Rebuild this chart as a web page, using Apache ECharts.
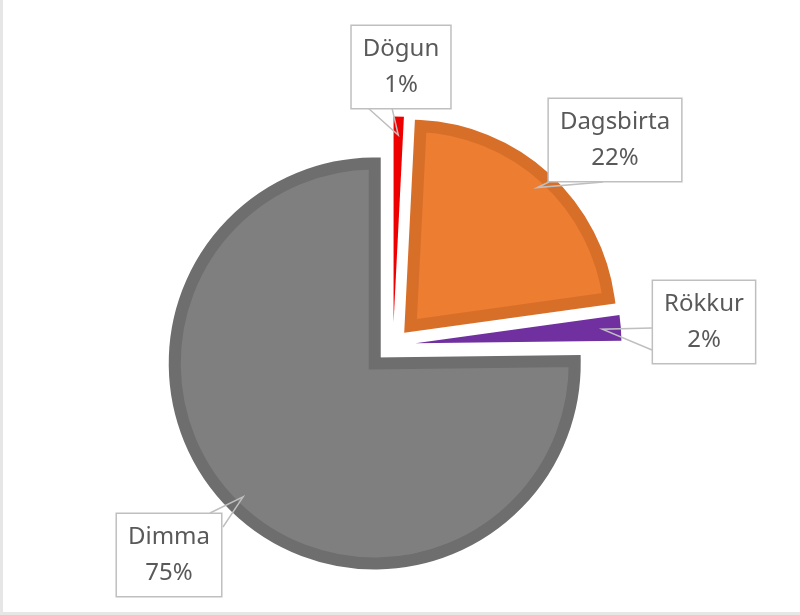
<!DOCTYPE html>
<html>
<head>
<meta charset="utf-8">
<script src="https://cdn.jsdelivr.net/npm/echarts@6/dist/echarts.min.js"></script>
<style>
  html, body { margin: 0; padding: 0; background: #fff; }
  #chart { width: 800px; height: 615px; }
</style>
</head>
<body>
<div id="chart"></div>
<script>
// Data
const categories = ['Dögun', 'Dagsbirta', 'Rökkur', 'Dimma'];
const shares = [0.8, 22, 2, 75.2];

// Styles
const fills = ['#EE0000', '#ED7D31', '#7030A0', '#7F7F7F'];
const edges = ['#EE0000', '#D86F29', '#7030A0', '#6E6E6E'];
const thin = [true, false, true, false];

// callout boxes: centre of the box and where the pointer leaves it
const callouts = [
  { x: 401, y: 67, base: [[368, 108], [392, 108]] },
  { x: 615, y: 140, base: [[549, 182], [603, 182]] },
  { x: 704, y: 322, base: [[652, 350], [652, 328]] },
  { x: 169, y: 555, base: [[210, 513], [223, 527]] },
];

const center = [393, 345];
const R = 206;

// middle angle of every slice, clockwise from 12 o'clock
const total = shares.reduce((a, b) => a + b, 0);
let acc = 0;
const mids = shares.map((v) => {
  const m = ((acc + v / 2) / total) * 2 * Math.PI;
  acc += v;
  return m;
});

var chartDom = document.getElementById('chart');
var myChart = echarts.init(chartDom);
var option;

const hidden = { color: 'rgba(0,0,0,0)', borderWidth: 0 };
const tips = [];

// one pie per slice so every slice can be pulled out on its own
const series = categories.map((name, i) => {
  const off = thin[i] ? 22.5 : 26;
  const dx = Math.sin(mids[i]);
  const dy = -Math.cos(mids[i]);
  const c = [center[0] + dx * off, center[1] + dy * off];
  tips.push([c[0] + dx * R * 0.91, c[1] + dy * R * 0.91]);
  const st = thin[i]
    ? { color: fills[i], borderWidth: 0 }
    : { color: fills[i], borderColor: edges[i], borderWidth: 12, borderJoin: 'miter' };
  return {
    type: 'pie',
    center: c,
    radius: thin[i] ? R : R - 6,
    startAngle: 90,
    silent: true,
    emphasis: { disabled: true },
    label: { show: false },
    labelLine: { show: false },
    data: categories.map((n, j) => ({
      name: n,
      value: shares[j],
      itemStyle: j === i ? st : hidden,
    })),
  };
});

// invisible pie on top that only carries the callouts
series.push({
  type: 'pie',
  z: 3,
  center: center,
  radius: R,
  startAngle: 90,
  silent: true,
  avoidLabelOverlap: false,
  emphasis: { disabled: true },
  itemStyle: hidden,
  label: {
    show: true,
    position: 'outside',
    formatter: (p) => p.name + '\n' + Math.round(p.percent) + '%',
    fontFamily: 'Noto Sans',
    fontSize: 24,
    lineHeight: 36,
    color: '#595959',
    backgroundColor: '#fff',
    borderColor: '#BFBFBF',
    borderWidth: 1.5,
    padding: [5, 11],
    align: 'center',
  },
  labelLine: {
    show: true,
    showAbove: true,
    length: 10,
    length2: 10,
    lineStyle: { color: '#BFBFBF', width: 1.5 },
  },
  labelLayout: function (p) {
    const box = callouts[p.dataIndex];
    return {
      x: box.x,
      y: box.y,
      align: 'center',
      verticalAlign: 'middle',
      labelLinePoints: [box.base[0], tips[p.dataIndex], box.base[1]],
    };
  },
  data: categories.map((n, j) => ({ name: n, value: shares[j] })),
});

option = {
  animation: false,
  graphic: [
    { type: 'rect', shape: { x: 0, y: 0, width: 3, height: 615 }, style: { fill: '#E6E6E6' } },
    { type: 'rect', shape: { x: 0, y: 612, width: 800, height: 3 }, style: { fill: '#E6E6E6' } },
  ],
  series: series,
};

option && myChart.setOption(option);
</script>
</body>
</html>
